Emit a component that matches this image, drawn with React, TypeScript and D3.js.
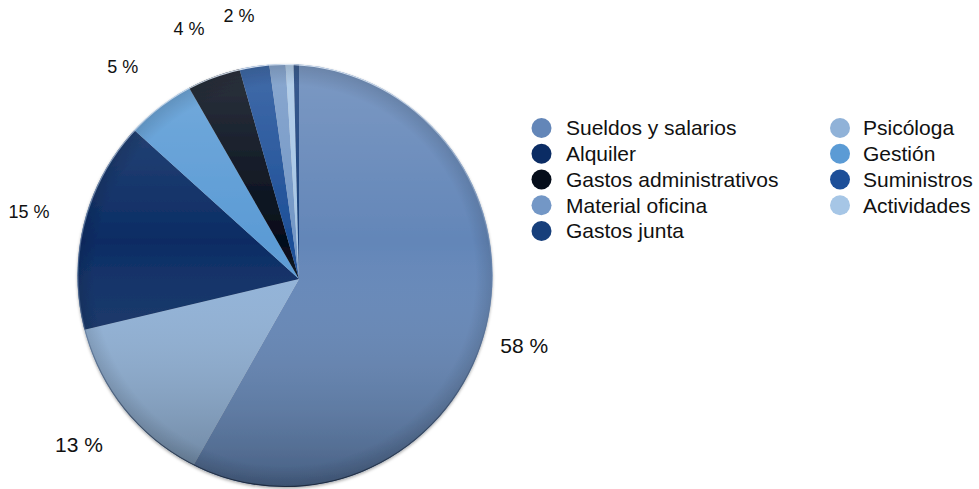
import React from "react";
import * as d3 from "d3";

const categories = [
  "Sueldos y salarios",
  "Psicóloga",
  "Alquiler",
  "Gestión",
  "Gastos administrativos",
  "Suministros",
  "Material oficina",
  "Actividades",
  "Gastos junta",
];
const values = [58.2, 13.1, 15.4, 5.0, 3.9, 2.2, 1.2, 0.6, 0.4];
const legendColumn1 = ["Sueldos y salarios", "Alquiler", "Gastos administrativos", "Material oficina", "Gastos junta"];
const legendColumn2 = ["Psicóloga", "Gestión", "Suministros", "Actividades"];
const categoryColors = ["#6386b8", "#90b2d8", "#0b2c64", "#5b9bd5", "#050d1a", "#1d4f98", "#7397c6", "#a6c6e6", "#173f7b"];

const W = 979;
const H = 489;
const FONT = "'Liberation Sans', Arial, Helvetica, sans-serif";

export default function App() {
  const V = { x: 299, y: 279 }; // slice vertex
  const C = { x: 285, y: 275.5 }; // outline centre
  const rx = 207.5;
  const ry = 211.5;

  const color = d3.scaleOrdinal<string, string>().domain(categories).range(categoryColors);
  const data = categories.map((c, i) => ({ name: c, value: values[i] }));
  const pie = d3.pie<{ name: string; value: number }>().sort(null).value((d) => d.value);
  const arcs = pie(data);
  const arcGen = d3.arc<d3.PieArcDatum<{ name: string; value: number }>>().innerRadius(0).outerRadius(330);

  const rimPoint = (theta: number) => {
    const dx = Math.sin(theta), dy = -Math.cos(theta);
    const px = (V.x - C.x) / rx, py = (V.y - C.y) / ry;
    const qx = dx / rx, qy = dy / ry;
    const a = qx * qx + qy * qy;
    const b = 2 * (px * qx + py * qy);
    const c = px * px + py * py - 1;
    const t = (-b + Math.sqrt(b * b - 4 * a * c)) / (2 * a);
    return { x: V.x + t * dx, y: V.y + t * dy };
  };
  const rimAngle = (p: { x: number; y: number }) => {
    let a = Math.atan2((p.x - C.x) / rx, -(p.y - C.y) / ry);
    if (a < 0) a += 2 * Math.PI;
    return a;
  };

  const L = { x: 277, y: 277, rx: 256, ry: 264 };
  const fontScale = d3.scaleLinear().domain([230, 330]).range([18, 21]).clamp(true);
  const labels = arcs
    .filter((a) => a.data.value >= 2)
    .map((a) => {
      const a0 = rimAngle(rimPoint(a.startAngle));
      let a1 = rimAngle(rimPoint(a.endAngle));
      if (a1 <= a0) a1 += 2 * Math.PI;
      const mid = (a0 + a1) / 2;
      const x = L.x + L.rx * Math.sin(mid);
      const y = L.y - L.ry * Math.cos(mid);
      return { x, y, text: `${Math.round(a.data.value)} %`, size: fontScale(y) };
    });

  const rowY = d3.scalePoint<number>().domain([0, 1, 2, 3, 4]).range([128, 231]);

  return (
    <svg width={W} height={H} style={{ position: "absolute", left: 0, top: 0, background: "#fff" }}>
      <defs>
        <clipPath id="pieClip">
          <ellipse cx={C.x} cy={C.y} rx={rx} ry={ry} />
        </clipPath>
        <linearGradient id="shade" x1="0" y1={C.y - ry} x2="0" y2={C.y + ry} gradientUnits="userSpaceOnUse">
          <stop offset="0" stopColor="#ffffff" stopOpacity={0.16} />
          <stop offset="0.42" stopColor="#ffffff" stopOpacity={0} />
          <stop offset="1" stopColor="#000000" stopOpacity={0.3} />
        </linearGradient>
        <radialGradient id="edge" cx={C.x} cy={C.y} r={Math.max(rx, ry)} gradientUnits="userSpaceOnUse">
          <stop offset="0.9" stopColor="#000" stopOpacity={0} />
          <stop offset="1" stopColor="#000" stopOpacity={0.14} />
        </radialGradient>
        <linearGradient id="rim" x1="0" y1={C.y - ry} x2="0" y2={C.y + ry} gradientUnits="userSpaceOnUse">
          <stop offset="0" stopColor="#e4eefa" stopOpacity={0.9} />
          <stop offset="0.5" stopColor="#6a86ad" stopOpacity={0.5} />
          <stop offset="1" stopColor="#1b2638" stopOpacity={0.9} />
        </linearGradient>
        <filter id="shadow" x="-10%" y="-10%" width="120%" height="120%">
          <feDropShadow dx="0" dy="1.5" stdDeviation="1.8" floodColor="#000" floodOpacity="0.35" />
        </filter>
      </defs>

      <g filter="url(#shadow)">
        <g clipPath="url(#pieClip)">
          <g transform={`translate(${V.x},${V.y})`}>
            {arcs.map((a) => (
              <path key={a.data.name} d={arcGen(a) || ""} fill={color(a.data.name)} />
            ))}
          </g>
          <ellipse cx={C.x} cy={C.y} rx={rx} ry={ry} fill="url(#shade)" />
          <ellipse cx={C.x} cy={C.y} rx={rx} ry={ry} fill="url(#edge)" />
        </g>
      </g>
      <ellipse cx={C.x} cy={C.y} rx={rx - 0.5} ry={ry - 0.5} fill="none" stroke="url(#rim)" strokeWidth={1.2} />

      {labels.map((l) => (
        <text
          key={l.text}
          x={l.x}
          y={l.y}
          dy="0.35em"
          textAnchor="middle"
          fontFamily={FONT}
          fontSize={l.size}
          fill="#111"
        >
          {l.text}
        </text>
      ))}

      {legendColumn1.map((name, i) => (
        <g key={name} transform={`translate(541.5,${rowY(i)})`}>
          <circle r={10} fill={color(name)} />
          <text x={24.5} dy="0.35em" fontFamily={FONT} fontSize={21} fill="#111">
            {name}
          </text>
        </g>
      ))}
      {legendColumn2.map((name, i) => (
        <g key={name} transform={`translate(840,${rowY(i)})`}>
          <circle r={10} fill={color(name)} />
          <text x={23} dy="0.35em" fontFamily={FONT} fontSize={21} fill="#111">
            {name}
          </text>
        </g>
      ))}
    </svg>
  );
}
